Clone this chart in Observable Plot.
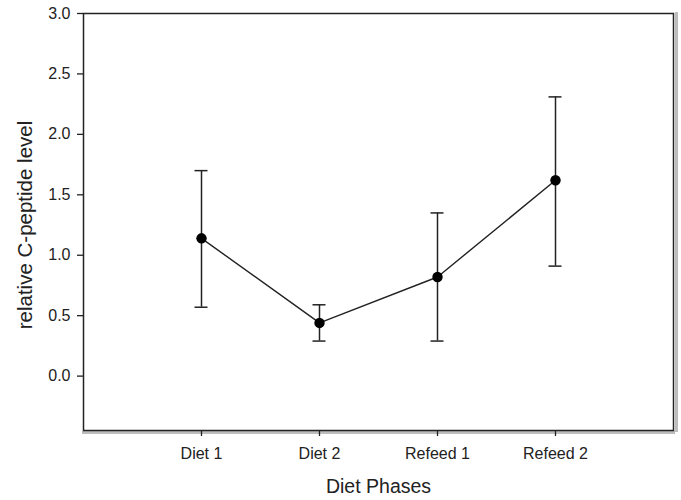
<!DOCTYPE html>
<html>
<head>
<meta charset="utf-8">
<script src="https://cdn.jsdelivr.net/npm/d3@7"></script>
<script src="https://cdn.jsdelivr.net/npm/@observablehq/plot@0.6"></script>
<style>
  html, body { margin: 0; padding: 0; background: #fff; }
  #chart svg { display: block; }
</style>
</head>
<body>
<div id="chart"></div>
<script>
const phases = ["Diet 1", "Diet 2", "Refeed 1", "Refeed 2"];
const means = [1.14, 0.44, 0.82, 1.62];
const upper = [1.70, 0.59, 1.35, 2.31];
const lower = [0.57, 0.29, 0.29, 0.91];
const yTicks = [0, 0.5, 1.0, 1.5, 2.0, 2.5, 3.0];
const xTitle = "Diet Phases";
const yTitle = "relative C-peptide level";

const data = phases.map((p, i) => ({phase: p, mean: means[i], hi: upper[i], lo: lower[i]}));

const ink = "#222";
const chart = Plot.plot({
  width: 681,
  height: 500,
  marginTop: 13,
  marginLeft: 83,
  marginRight: 8,
  marginBottom: 70,
  style: {fontFamily: "'Liberation Sans', Arial, sans-serif", fontSize: "16px", color: ink, background: "#fff"},
  x: {type: "point", domain: phases, padding: 1},
  y: {domain: [-0.45, 3.0]},
  marks: [
    Plot.frame({anchor: "right", dx: 3, stroke: "#bdbdbd", strokeWidth: 3}),
    Plot.frame({anchor: "bottom", dy: 2, stroke: "#bdbdbd", strokeWidth: 3}),
    Plot.frame({stroke: ink, strokeWidth: 1.5}),
    Plot.axisY({ticks: yTicks, tickFormat: d3.format(".1f"), tickSize: 6, tickPadding: 7, label: null, stroke: ink, strokeWidth: 1.3, fontSize: 16}),
    Plot.axisX({tickSize: 6, tickPadding: 11, label: null, stroke: ink, strokeWidth: 1.3, fontSize: 16}),
    Plot.ruleX(data, {x: "phase", y1: "lo", y2: "hi", stroke: ink, strokeWidth: 1.5}),
    Plot.ruleY(data, {x1: "phase", x2: "phase", y: "hi", insetLeft: -6.5, insetRight: -6.5, stroke: ink, strokeWidth: 1.5}),
    Plot.ruleY(data, {x1: "phase", x2: "phase", y: "lo", insetLeft: -6.5, insetRight: -6.5, stroke: ink, strokeWidth: 1.5}),
    Plot.line(data, {x: "phase", y: "mean", stroke: ink, strokeWidth: 1.4}),
    Plot.dot(data, {x: "phase", y: "mean", r: 5.2, fill: "#000", stroke: "none"}),
    Plot.text([xTitle], {frameAnchor: "bottom", dy: 62, fontSize: 19.5, fill: ink, textAnchor: "middle"}),
    Plot.text([yTitle], {frameAnchor: "left", dx: -58, dy: 3, rotate: -90, fontSize: 20.5, fill: ink, textAnchor: "middle"})
  ]
});
document.getElementById("chart").appendChild(chart);
</script>
</body>
</html>
